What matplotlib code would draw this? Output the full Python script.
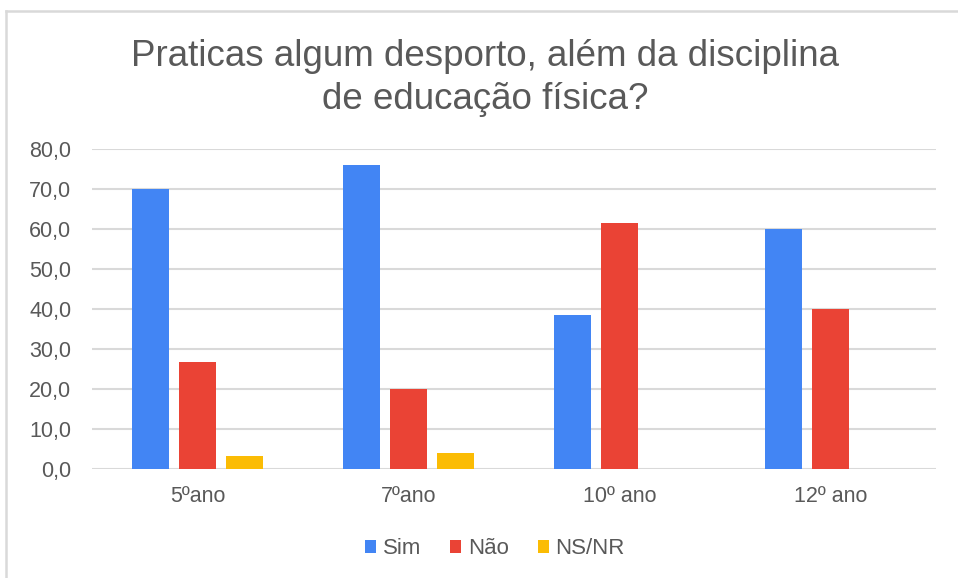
import matplotlib
matplotlib.use("Agg")
import matplotlib.pyplot as plt
from matplotlib.lines import Line2D
import numpy as np

categories = ["5ºano", "7ºano", "10º ano", "12º ano"]
series_names = ["Sim", "Não", "NS/NR"]
sim = [70.0, 75.9, 38.5, 60.0]
nao = [26.7, 20.0, 61.5, 40.0]
nsnr = [3.3, 4.1, 0.0, 0.0]
yticks = [0, 10, 20, 30, 40, 50, 60, 70, 80]
title = "Praticas algum desporto, além da disciplina\nde educação física?"

colors = ["#4285F4", "#EA4335", "#FBBC04"]
text_color = "#595959"
grid_color = "#d9d9d9"

plt.rcParams['font.family'] = ['Liberation Sans', 'DejaVu Sans']

W, H = 958, 578
fig = plt.figure(figsize=(W / 100, H / 100), dpi=100)
ax = fig.add_axes([92 / W, (H - 469) / H, 844 / W, 320 / H])

x = np.arange(len(categories))
width = 0.175
offsets = [-0.222, 0.0, 0.222]
for vals, off, c, name in zip([sim, nao, nsnr], offsets, colors, series_names):
    ax.bar(x + off, vals, width, color=c, label=name, linewidth=0, zorder=3)

ax.set_xlim(-0.5, len(categories) - 0.5)
ax.set_ylim(0, 80)
ax.set_yticks(yticks)
ax.set_yticklabels([f"{v:.1f}".replace(".", ",") for v in yticks])
ax.set_xticks(x)
ax.set_xticklabels(categories)
ax.tick_params(axis='both', length=0, labelsize=15.5, colors=text_color)
ax.tick_params(axis='y', pad=15)
ax.tick_params(axis='x', pad=12)
ax.grid(axis='y', color=grid_color, linewidth=1.5, zorder=0)
for s in ax.spines.values():
    s.set_visible(False)

fig.text(485 / W, 1 - 78 / H, title, ha='center', va='center', fontsize=26.5,
         color=text_color, linespacing=1.3)

leg = fig.legend(loc='center', bbox_to_anchor=(495 / W, 1 - 549 / H), ncol=3,
                 frameon=False, fontsize=16, handlelength=0.5, handleheight=0.5,
                 handletextpad=0.3, columnspacing=1.3)
for t in leg.get_texts():
    t.set_color(text_color)

# outer chart border (top and left, as in reference)
fig.add_artist(Line2D([6 / W, 958 / W], [1 - 11 / H, 1 - 11 / H], color=grid_color,
                      linewidth=1.8, transform=fig.transFigure))
fig.add_artist(Line2D([6 / W, 6 / W], [0, 1 - 11 / H], color=grid_color,
                      linewidth=1.8, transform=fig.transFigure))

fig.savefig("out.png", dpi=100, facecolor="white")
